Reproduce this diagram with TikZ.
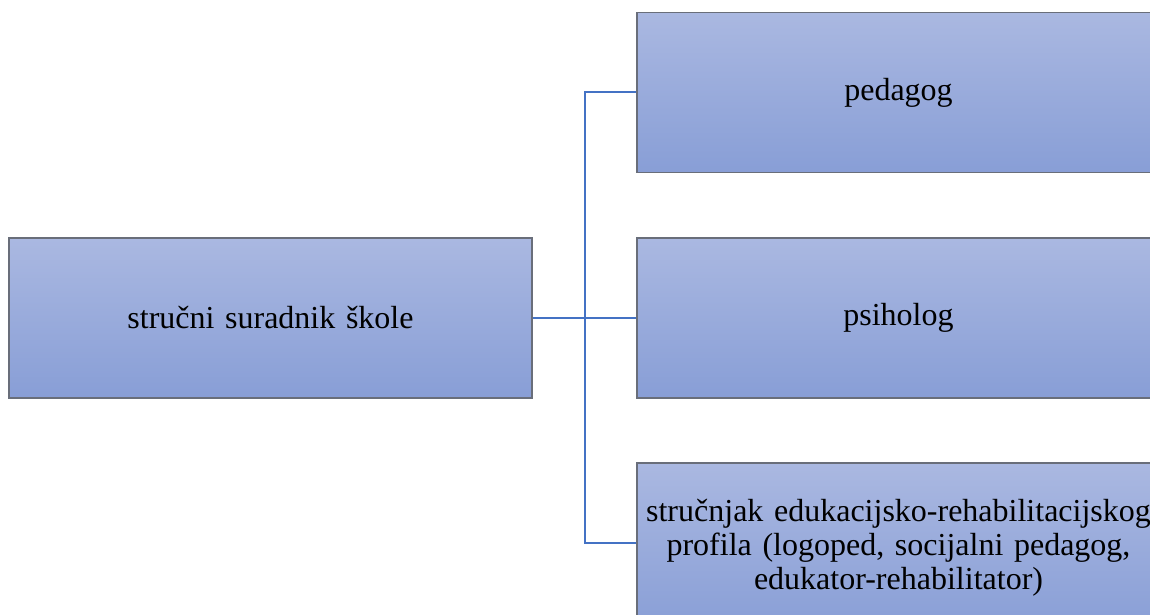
\documentclass[tikz,border=0pt]{standalone}
\usepackage{fontspec}
\setmainfont{Liberation Serif}
\definecolor{boxtop}{RGB}{170,184,225}
\definecolor{boxbot}{RGB}{136,158,214}
\definecolor{boxline}{RGB}{105,110,122}
\definecolor{conn}{RGB}{68,114,196}
\tikzset{
  orgbox/.style={rectangle, draw=boxline, line width=1.5pt, top color=boxtop, bottom color=boxbot,
    minimum width=523pt, minimum height=160pt, inner sep=0pt, text width=515pt, align=center,
    font=\fontsize{32}{34}\selectfont},
  link/.style={draw=conn, line width=2pt}
}
\begin{document}
\begin{tikzpicture}[x=1pt,y=-1pt]
\path[use as bounding box, clip] (0,0) rectangle (1150,615);
\node[orgbox] (left) at (270.5,318) {stručni suradnik škole};
\node[orgbox] (r1) at (898.5,92.5) {pedagog};
\node[orgbox] (r2) at (898.5,318) {psiholog};
\node[orgbox, minimum height=170pt] (r3) at (898.5,548) {stručnjak edukacijsko-rehabilitacijskog\\profila (logoped, socijalni pedagog,\\edukator-rehabilitator)};
\coordinate (j) at (585,318);
\draw[link] (left.east) -- (r2.west);
\draw[link] (j) |- (r1.west);
\draw[link] (j) |- (585,543) -- (r3.west |- 0,543);
\end{tikzpicture}
\end{document}
